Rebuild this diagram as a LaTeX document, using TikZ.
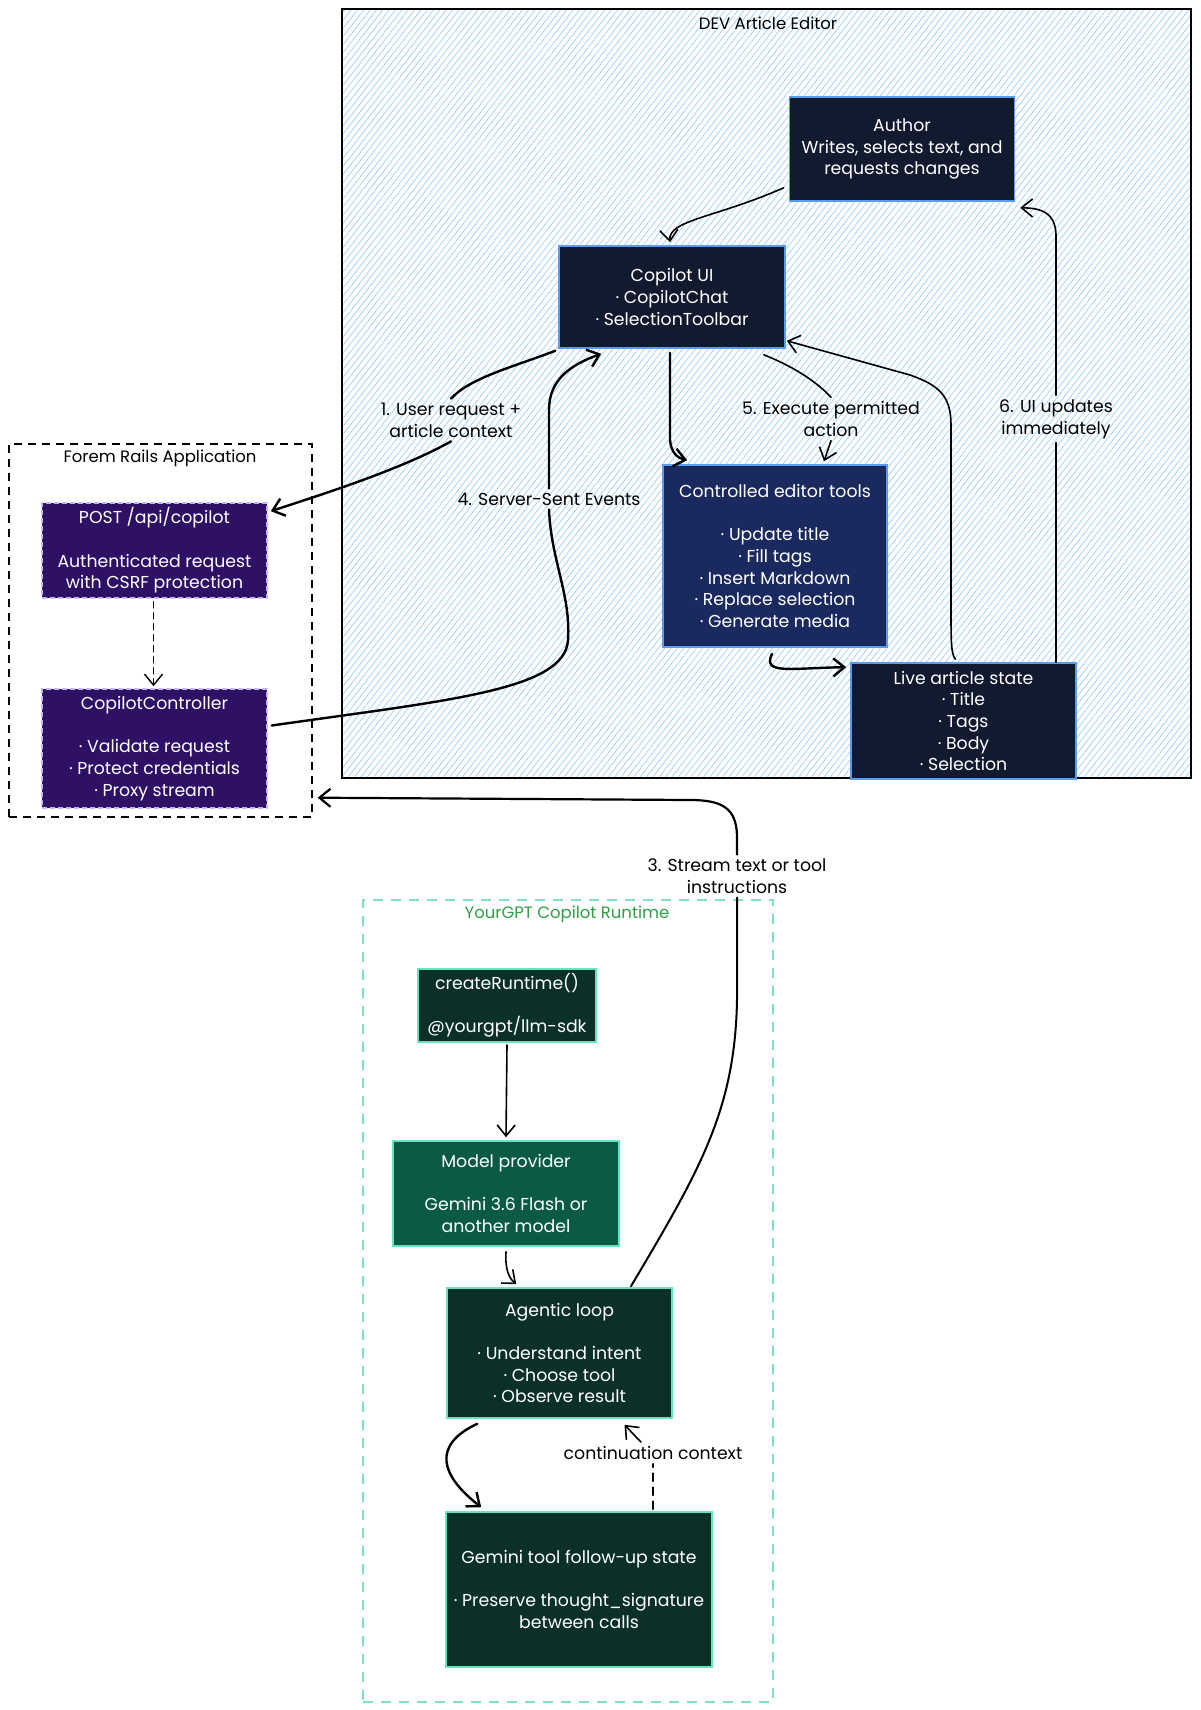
\documentclass[tikz,border=0pt]{standalone}
\usepackage{fontspec}
\setmainfont{Poppins}
\usetikzlibrary{arrows.meta,patterns.meta,calc}
\definecolor{navyfill}{HTML}{111A2E}
\definecolor{toolsfill}{HTML}{1B2A5E}
\definecolor{blueedge}{HTML}{5B9CF0}
\definecolor{purplefill}{HTML}{2E1065}
\definecolor{purpleedge}{HTML}{C4B5FD}
\definecolor{greenfill}{HTML}{0B3028}
\definecolor{modelfill}{HTML}{0A5A45}
\definecolor{greenedge}{HTML}{63E6BE}
\definecolor{runtimeframe}{HTML}{7FDFC5}
\definecolor{runtimetitle}{HTML}{2F9E44}
\definecolor{hatch}{HTML}{9CCFF5}
\begin{document}
\begin{tikzpicture}[x=1pt,y=1pt,
  txt/.style={font=\fontsize{17.3}{21.7}\selectfont, align=center},
  box/.style={txt, rectangle, line width=1.6pt, text=white, inner sep=0pt},
  navybox/.style={box, fill=navyfill, draw=blueedge},
  toolsbox/.style={box, fill=toolsfill, draw=blueedge},
  purplebox/.style={box, fill=purplefill, draw=purpleedge, dash pattern=on 5pt off 3pt},
  greenbox/.style={box, fill=greenfill, draw=greenedge},
  modelbox/.style={box, fill=modelfill, draw=greenedge},
  lbl/.style={txt, text=black, inner sep=4pt},
  conn/.style={line width=1.6pt, black, line cap=round, -{Straight Barb[length=11pt,width=18pt]}},
  thickconn/.style={conn, line width=2.4pt},
  plain/.style={line width=1.6pt, black, line cap=round},
  plainthick/.style={plain, line width=2.4pt}
]
\useasboundingbox (0,0) rectangle (1200,-1710);
\fill[white] (0,0) rectangle (1200,-1710);

% frames
\node[draw=black, line width=1.2pt, pattern={Lines[angle=52,distance=5pt,line width=0.7pt]}, pattern color=hatch,
      minimum width=849pt, minimum height=769pt, inner sep=0pt] (dev) at (766.5,-393.5) {};
\node[txt, font=\fontsize{16.5}{20}\selectfont] (devtitle) at (768,-23) {DEV Article Editor};

\node[draw=black, line width=1.4pt, dash pattern=on 8pt off 6pt,
      minimum width=303pt, minimum height=373pt, inner sep=0pt] (forem) at (160.5,-630.5) {};
\node[txt, font=\fontsize{16.5}{20}\selectfont] (ftitle) at (160,-458) {Forem Rails Application};

\node[draw=runtimeframe, line width=1.3pt, dash pattern=on 10pt off 8pt,
      minimum width=410pt, minimum height=802pt, inner sep=0pt] (runtime) at (568,-1301) {};
\node[txt, font=\fontsize{16.5}{20}\selectfont, text=runtimetitle] (rtitle) at (567,-914) {YourGPT Copilot Runtime};

% boxes
\node[navybox, minimum width=225pt, minimum height=104pt] (author) at (902,-149)
  {Author\\Writes, selects text, and\\requests changes};
\node[navybox, minimum width=226pt, minimum height=102pt] (cui) at (672,-297)
  {Copilot UI\\· CopilotChat\\· SelectionToolbar};
\node[toolsbox, minimum width=224pt, minimum height=182pt] (tools) at (775,-556)
  {Controlled editor tools\\[21.7pt]· Update title\\· Fill tags\\· Insert Markdown\\· Replace selection\\· Generate media};
\node[navybox, minimum width=225pt, minimum height=116pt] (live) at (963.5,-721)
  {Live article state\\· Title\\· Tags\\· Body\\· Selection};

\node[purplebox, minimum width=225pt, minimum height=95pt] (post) at (154.5,-550.5)
  {POST /api/copilot\\[21.7pt]Authenticated request\\with CSRF protection};
\node[purplebox, minimum width=225pt, minimum height=119pt] (ctrl) at (154.5,-748.5)
  {CopilotController\\[21.7pt]· Validate request\\· Protect credentials\\· Proxy stream};

\node[greenbox, minimum width=178pt, minimum height=73pt] (cr) at (507,-1005.5)
  {createRuntime()\\[21.7pt]@yourgpt/llm-sdk};
\node[modelbox, minimum width=226pt, minimum height=105pt] (mp) at (506,-1193.5)
  {Model provider\\[21.7pt]Gemini 3.6 Flash or\\another model};
\node[greenbox, minimum width=225pt, minimum height=130pt] (loop) at (559.5,-1353)
  {Agentic loop\\[21.7pt]· Understand intent\\· Choose tool\\· Observe result};
\node[greenbox, minimum width=266pt, minimum height=155pt] (gem) at (579,-1589.5)
  {Gemini tool follow-up state\\[21.7pt]· Preserve thought\_signature\\between calls};

% labels
\node[lbl] (l1) at (451,-420) {1. User request +\\article context};
\node[lbl] (l4) at (549,-499) {4. Server-Sent Events};
\node[lbl] (l5) at (831,-419) {5. Execute permitted\\action};
\node[lbl] (l6) at (1056,-419) {6. UI updates\\immediately};
\node[lbl] (l3) at (737,-876) {3. Stream text or tool\\instructions};
\node[lbl] (lc) at (653,-1453) {continuation context};

% connectors
\draw[conn] ($(author.south west)+(-5,14)$) .. controls (715,-218) and (668,-220) .. ($(cui.north)+(-2,3)$);

\draw[plainthick] ($(cui.south west)+(-3,-2)$) .. controls (510,-368) and (470,-378) .. (l1.north);
\draw[thickconn] (l1.south) .. controls (400,-470) and (320,-495) .. ($(post.north east)+(3,-9)$);

\draw[plainthick] ($(ctrl.east)+(4,23)$) .. controls (450,-700) and (565,-690) .. (568,-640)
   .. controls (571,-595) and (551,-560) .. (l4.south);
\draw[thickconn] (l4.north) -- (549,-410) .. controls (549,-380) and (570,-365) .. ($(cui.south west)+(43,-5)$);

\draw[thickconn] ($(cui.south)+(-2,-4)$) -- (670,-440) .. controls (671,-452) and (677,-458) .. ($(tools.north west)+(25,4)$);

\draw[plain] ($(cui.south east)+(-22,-6)$) .. controls (790,-365) and (815,-380) .. (l5.north);
\draw[conn] (l5.south) -- ($(tools.north)+(49,3)$);

\draw[thickconn] ($(tools.south)+(-3,-6)$) .. controls (762,-675) and (790,-668) .. ($(live.north west)+(-4,-5)$);

\draw[conn] ($(live.north)+(-8,3)$) .. controls (951,-655) and (951,-640) .. (951,-610) -- (951,-425)
   .. controls (951,-395) and (938,-385) .. (910,-375) -- ($(cui.south east)+(1,8)$);

\draw[plain] ($(live.north)+(92.5,0)$) -- (l6.south);
\draw[conn] (l6.north) -- (1056,-240) .. controls (1057,-215) and (1045,-208) .. ($(author.south east)+(5,-6)$);

\draw[conn, line width=1.4pt, dash pattern=on 6pt off 5pt] ($(post.south)+(-1,-3)$) -- ($(ctrl.north)+(-1,2)$);

\draw[plain, line width=2pt] ($(loop.north)+(71.5,1)$) .. controls (700,-1170) and (735,-1110) .. (737,-1000) -- (l3.south);
\draw[conn, line width=2.2pt] (l3.north) -- (737,-835) .. controls (736,-808) and (722,-800) .. (690,-800) -- ($(forem.south east)+(5,20)$);

\draw[conn] ($(cr.south)+(0,-2)$) -- ($(mp.north)+(0,3)$);
\draw[conn] ($(mp.south)+(0,-5)$) .. controls (505,-1270) and (509,-1278) .. ($(loop.north west)+(70,3)$);
\draw[thickconn] ($(loop.south west)+(31,-5)$) .. controls (432,-1445) and (440,-1475) .. ($(gem.north west)+(36,4)$);

\draw[plain, dash pattern=on 8pt off 6pt] ($(gem.north)+(74,2)$) -- (lc.south);
\draw[conn] ($(lc.north)+(-12,0)$) -- ($(loop.south)+(65,-6)$);
\end{tikzpicture}
\end{document}
